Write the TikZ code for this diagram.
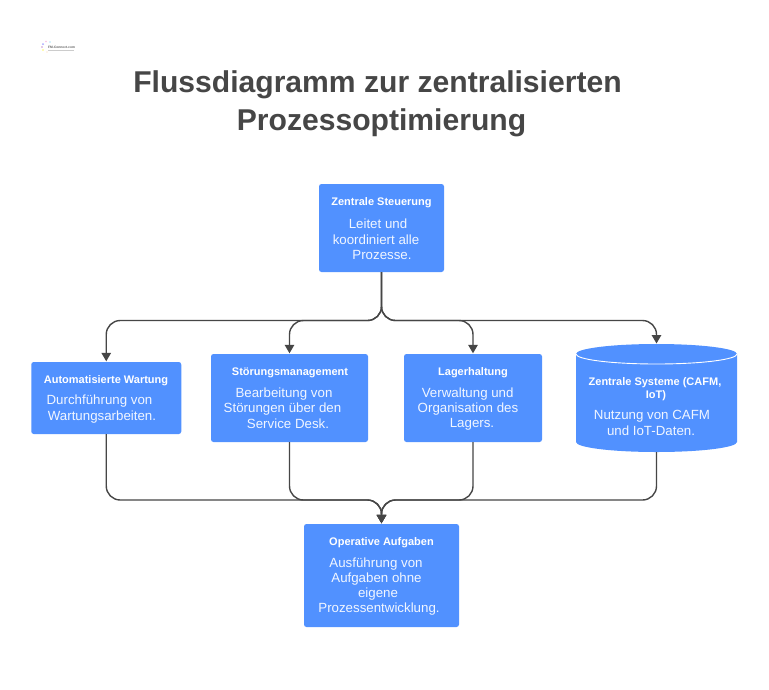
\documentclass[tikz,border=0pt]{standalone}
\usepackage{fontspec}
\setmainfont{Liberation Sans}
\usetikzlibrary{arrows.meta}
\definecolor{boxblue}{HTML}{5191FF}
\definecolor{ink}{HTML}{464646}
\tikzset{
 flowbox/.style={fill=boxblue,draw=none,rounded corners=2.5pt,inner sep=0pt},
 head/.style={text=white,font=\fontsize{11}{13}\selectfont\bfseries,inner sep=0pt,yshift=-1.5pt},
 body/.style={text=white!92!boxblue,font=\fontsize{13.3}{15}\selectfont,inner sep=0pt,yshift=-1pt},
 titleline/.style={text=ink,font=\fontsize{30.1}{36}\selectfont\bfseries,inner sep=0pt,yshift=-3.5pt},
 conn/.style={draw=ink,line width=1.4pt,rounded corners=14pt},
 arr/.style={conn,-{Triangle[length=8.5pt,width=9.5pt]},shorten >=0.5pt},
 dot/.style={circle,inner sep=0pt,minimum size=#1}
}
\begin{document}
\begin{tikzpicture}[x=1pt,y=-1pt]
\useasboundingbox[fill=white] (0,0) rectangle (769,689);
% logo
\node[dot=2pt,fill=blue!35!white] (l1) at (43,44) {};
\node[dot=1.6pt,fill=magenta!25!white] (l2) at (46,41.5) {};
\node[dot=1.6pt,fill=cyan!30!white] (l3) at (50,42) {};
\node[dot=1.6pt,fill=violet!40!white] (l4) at (42,47) {};
\node[dot=1.6pt,fill=yellow!60!white] (l5) at (43,50) {};
\node[dot=1.4pt,fill=orange!35!white] (l6) at (47,52) {};
\node[anchor=west,inner sep=0pt,text=ink!85!white,font=\fontsize{3.3}{4}\selectfont\bfseries] (logo) at (48,47.3) {FM-Connect.com};
\fill[gray!40] (48,50.2) rectangle (74,50.9);
% title
\node[titleline] (t1) at (377.5,81) {Flussdiagramm zur zentralisierten};
\node[titleline] (t2) at (381.5,119) {Prozessoptimierung};
% boxes
\node[flowbox,minimum width=125pt,minimum height=88pt] (top) at (381.5,228) {};
\node[flowbox,minimum width=150pt,minimum height=72pt] (auto) at (106.25,398) {};
\node[flowbox,minimum width=157pt,minimum height=88pt] (stoer) at (289.5,398) {};
\node[flowbox,minimum width=138pt,minimum height=88pt] (lager) at (473,398) {};
\node[flowbox,minimum width=155pt,minimum height=103pt] (op) at (381.5,575.5) {};
\node[inner sep=0pt,outer sep=0pt,minimum width=161pt,minimum height=108pt] (cyl) at (656.5,398) {};
\fill[boxblue] (576,354) arc[start angle=180,end angle=0,x radius=80.5pt,y radius=10pt] -- (737,442) arc[start angle=0,end angle=-180,x radius=80.5pt,y radius=10pt] -- cycle;
\draw[white,line width=0.9pt] (576,354) arc[start angle=180,end angle=360,x radius=80.5pt,y radius=10pt];
% connectors
\coordinate (busT) at (381.5,320.5);
\coordinate (busB) at (381.5,500);
\draw[arr] (top.south) -- (busT) -- (auto.north |- busT) -- (auto.north);
\draw[arr] (top.south) -- (busT) -- (stoer.north |- busT) -- (stoer.north);
\draw[arr] (top.south) -- (busT) -- (lager.north |- busT) -- (lager.north);
\draw[arr] (top.south) -- (busT) -- (cyl.north |- busT) -- (cyl.north);
\draw[arr] (auto.south) -- (auto.south |- busB) -- (busB) -- (op.north);
\draw[arr] (stoer.south) -- (stoer.south |- busB) -- (busB) -- (op.north);
\draw[arr] (lager.south) -- (lager.south |- busB) -- (busB) -- (op.north);
\draw[arr] (cyl.south) -- (cyl.south |- busB) -- (busB) -- (op.north);
% texts
\node[head] (h1) at (381.5,201) {Zentrale Steuerung};
\node[body] (b11) at (378,223) {Leitet und};
\node[body] (b12) at (376,238.5) {koordiniert alle};
\node[body] (b13) at (382,254) {Prozesse.};
\node[head] (h2) at (106,379) {Automatisierte Wartung};
\node[body] (b21) at (99.5,400.5) {Durchführung von};
\node[body] (b22) at (102,415.7) {Wartungsarbeiten.};
\node[head] (h3) at (290,371) {Störungsmanagement};
\node[body] (b31) at (284,393) {Bearbeitung von};
\node[body] (b32) at (282.5,408) {Störungen über den};
\node[body] (b33) at (288,423) {Service Desk.};
\node[head] (h4) at (473,371) {Lagerhaltung};
\node[body] (b41) at (467.7,393) {Verwaltung und};
\node[body] (b42) at (468,408) {Organisation des};
\node[body] (b43) at (472,423) {Lagers.};
\node[head] (h5) at (655,381) {Zentrale Systeme (CAFM,};
\node[head] (h5b) at (656,394) {IoT)};
\node[body] (b51) at (652,415) {Nutzung von CAFM};
\node[body] (b52) at (651,430) {und IoT-Daten.};
\node[head] (h6) at (381.5,541) {Operative Aufgaben};
\node[body] (b61) at (376,563) {Ausführung von};
\node[body] (b62) at (376.5,578) {Aufgaben ohne};
\node[body] (b63) at (378,593) {eigene};
\node[body] (b64) at (379,608) {Prozessentwicklung.};
\end{tikzpicture}
\end{document}
